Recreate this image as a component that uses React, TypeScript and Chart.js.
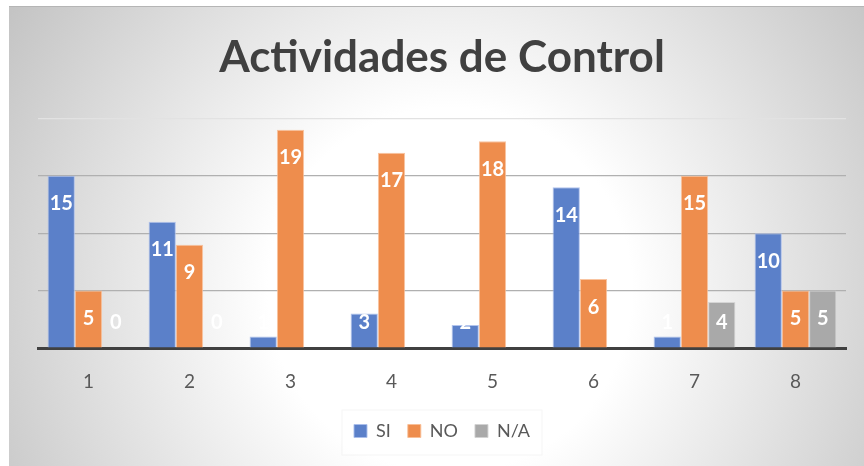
import React, { useEffect, useRef } from "react";
import { Chart, registerables } from "chart.js";

Chart.register(...registerables);

const categories = ["1", "2", "3", "4", "5", "6", "7", "8"];
const siValues = [15, 11, 1, 3, 2, 14, 1, 10];
const noValues = [5, 9, 19, 17, 18, 6, 15, 5];
const naValues = [0, 0, 0, 0, 0, 0, 4, 5];
const seriesNames = ["SI", "NO", "N/A"];
const titleText = "Actividades de Control";

const FONT = "Lato, 'Open Sans', sans-serif";

const bgPlugin = {
  id: "bgPlugin",
  beforeDraw(chart: any) {
    const { ctx, width, height } = chart;
    ctx.save();
    const g = ctx.createRadialGradient(441, 284, 0, 441, 284, 520);
    g.addColorStop(0, "#ffffff");
    g.addColorStop(0.35, "#ffffff");
    g.addColorStop(1, "#c4c4c4");
    ctx.fillStyle = g;
    ctx.fillRect(0, 0, width, height);
    ctx.fillStyle = "#b5b5b5";
    ctx.fillRect(0, 0, width, 1);
    const lg = chart.legend;
    if (lg) {
      const cx = lg.left + lg.width / 2;
      ctx.fillStyle = "rgba(255,255,255,0.5)";
      ctx.strokeStyle = "rgba(0,0,0,0.04)";
      ctx.fillRect(cx - 100, 404, 200, 45);
      ctx.strokeRect(cx - 100, 404, 200, 45);
    }
    ctx.restore();
  },
};

const labelPlugin = {
  id: "labelPlugin",
  afterDatasetsDraw(chart: any) {
    const { ctx } = chart;
    ctx.save();
    ctx.font = "bold 20px " + FONT;
    ctx.fillStyle = "#ffffff";
    ctx.textAlign = "center";
    ctx.textBaseline = "middle";
    chart.data.datasets.forEach((ds: any, di: number) => {
      const meta = chart.getDatasetMeta(di);
      meta.data.forEach((bar: any, i: number) => {
        const y = Math.min(bar.y + 28, bar.base - 25);
        ctx.fillText(String(ds.data[i]), bar.x, y);
      });
    });
    ctx.restore();
  },
};

export default function App() {
  const ref = useRef<HTMLCanvasElement>(null);
  useEffect(() => {
    if (!ref.current) return;
    const chart = new Chart(ref.current, {
      type: "bar",
      data: {
        labels: categories,
        datasets: [
          { label: seriesNames[0], data: siValues, backgroundColor: "#5b80c9", borderColor: "rgba(170,190,235,0.9)", borderWidth: 1 },
          { label: seriesNames[1], data: noValues, backgroundColor: "#ee8d4d", borderColor: "rgba(248,190,150,0.9)", borderWidth: 1 },
          { label: seriesNames[2], data: naValues, backgroundColor: "#a9a9a9", borderColor: "rgba(210,210,210,0.9)", borderWidth: 1 },
        ],
      },
      options: {
        responsive: false,
        animation: false,
        layout: { padding: { left: 29, right: 18, top: 0, bottom: 16 } },
        datasets: { bar: { categoryPercentage: 0.81, barPercentage: 1 } },
        scales: {
          x: {
            grid: { display: false },
            border: { color: "#404040", width: 3 },
            ticks: { color: "#595959", font: { size: 19, family: FONT }, padding: 14 },
            afterFit: (scale: any) => {
              scale.height = 57;
            },
          },
          y: {
            min: 0,
            max: 20,
            ticks: { display: false, stepSize: 5 },
            border: { display: false },
            grid: {
              color: (c: any) => (c.tick && c.tick.value === 20 ? "#e2e2e2" : "#b0b0b0"),
              lineWidth: 1.2,
              drawTicks: false,
            },
          },
        },
        plugins: {
          title: {
            display: true,
            text: titleText,
            color: "#404040",
            font: { size: 44, weight: "bold", family: FONT },
            padding: { top: 25, bottom: 34.5 },
          },
          legend: {
            position: "bottom",
            labels: {
              color: "#595959",
              font: { size: 18, family: FONT },
              boxWidth: 13,
              boxHeight: 13,
              padding: 17,
            },
          },
          tooltip: { enabled: false },
        },
      },
      plugins: [bgPlugin, labelPlugin],
    });
    return () => chart.destroy();
  }, []);
  return (
    <div style={{ position: "absolute", left: 0, top: 0, width: 864, height: 466, background: "#fff", overflow: "hidden" }}>
      <canvas ref={ref} width={855} height={460} style={{ position: "absolute", left: 9, top: 6, width: 855, height: 460 }} />
    </div>
  );
}
